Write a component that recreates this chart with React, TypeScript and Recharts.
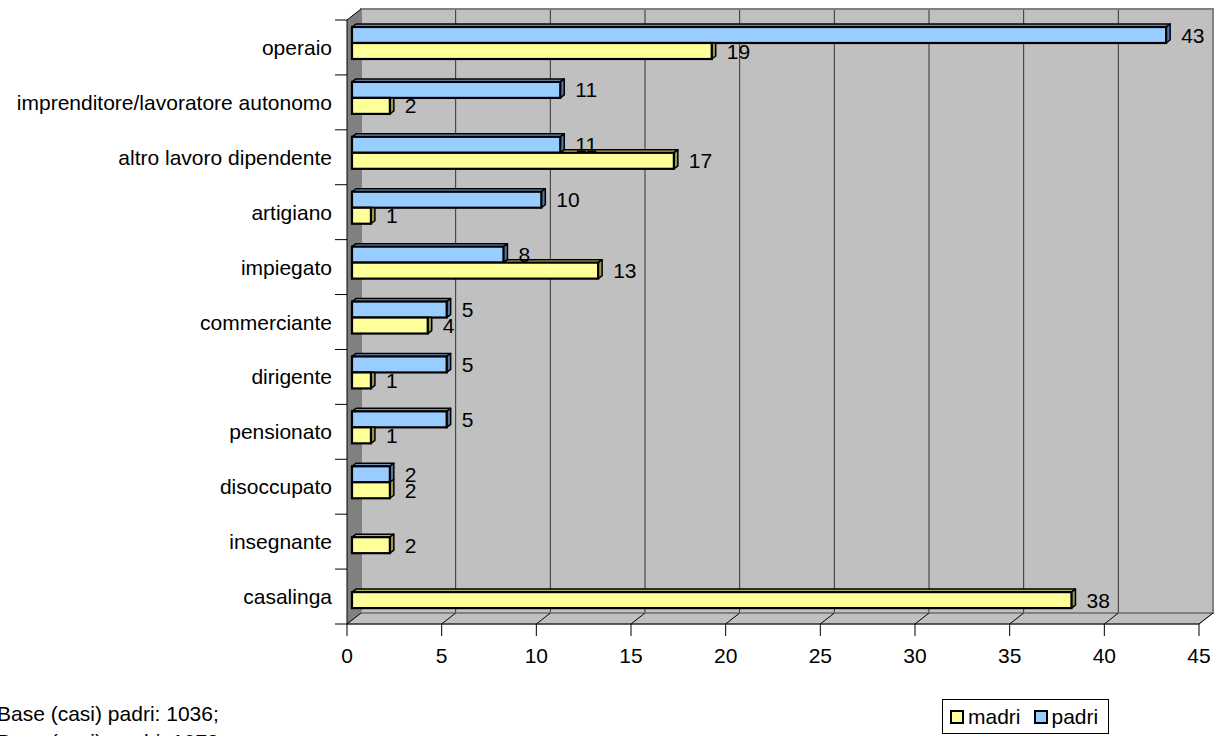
import React from 'react';
import { BarChart, Bar, XAxis, YAxis, CartesianGrid, ReferenceArea, LabelList, Legend } from 'recharts';

const categories = [
  'operaio',
  'imprenditore/lavoratore autonomo',
  'altro lavoro dipendente',
  'artigiano',
  'impiegato',
  'commerciante',
  'dirigente',
  'pensionato',
  'disoccupato',
  'insegnante',
  'casalinga',
];
const padriValues = [43, 11, 11, 10, 8, 5, 5, 5, 2, 0, 0];
const madriValues = [19, 2, 17, 1, 13, 4, 1, 1, 2, 2, 38];
const xTicks = [0, 5, 10, 15, 20, 25, 30, 35, 40, 45];
const legendOrder = ['madri', 'padri'];
const footnotes = ['Base (casi) padri: 1036;', 'Base (casi) madri: 1073'];

const data = categories.map((cat, i) => ({ cat, padri: padriValues[i], madri: madriValues[i] }));

const FONT = '"Liberation Sans", Arial, Helvetica, sans-serif';
const FS = 21;
const DX = 14; // wall depth
const DY = -11;
const SX = 5; // bar position in depth
const SY = -4;
const EX = 4; // bar extrusion
const EY = 3;
const TICK_SIZE = 12;
const TICK_MARGIN = 12;

const COLORS: Record<string, { front: string; top: string; side: string }> = {
  padri: { front: '#99ccff', top: '#7094c4', side: '#5577a3' },
  madri: { front: '#ffff99', top: '#b2b266', side: '#99994d' },
};

const Box3D = (p: any) => {
  const { x, y, width, height, front, top, side, coverRatio = 0 } = p;
  if (!(width > 0)) return null;
  const fx = x + SX;
  const fy = y + SY;
  const w = width;
  const h = height;
  const ts = Math.min(w, w * coverRatio);
  const clipSide = coverRatio > 1;
  const sidePts = clipSide
    ? `${fx + w},${fy} ${fx + w + EX},${fy} ${fx + w + EX},${fy + h - EY} ${fx + w},${fy + h}`
    : `${fx + w},${fy} ${fx + w + EX},${fy - EY} ${fx + w + EX},${fy + h - EY} ${fx + w},${fy + h}`;
  return (
    <g>
      {ts < w && (
        <polygon
          points={`${fx + ts},${fy} ${fx + ts + EX},${fy - EY} ${fx + w + EX},${fy - EY} ${fx + w},${fy}`}
          fill={top}
          stroke="#000"
          strokeWidth={1.5}
          strokeLinejoin="round"
        />
      )}
      <polygon points={sidePts} fill={side} stroke="#000" strokeWidth={1.5} strokeLinejoin="round" />
      <rect x={fx} y={fy} width={w} height={h} fill={front} stroke="#000" strokeWidth={2.2} />
    </g>
  );
};

const padriShape = (p: any) => <Box3D {...p} {...COLORS.padri} coverRatio={0} />;
const madriShape = (p: any) => {
  const pl = p.payload || {};
  const ratio = pl.madri ? pl.padri / pl.madri : 0;
  return <Box3D {...p} {...COLORS.madri} coverRatio={ratio} />;
};

const renderValueLabel = (p: any) => {
  const vb = p.viewBox && p.viewBox.width !== undefined ? p.viewBox : p;
  const { x, y, width, height } = vb;
  const v = p.value;
  if (!v) return null;
  return (
    <text
      x={x + width + SX + 15}
      y={y + height / 2 + SY}
      fontSize={FS}
      fontFamily={FONT}
      fill="#000"
      dominantBaseline="central"
    >
      {v}
    </text>
  );
};

const WallsShape = (p: any) => {
  const { x, y, width: w, height: h } = p;
  const n = categories.length;
  const b = y + h;
  const ticks = [];
  for (let k = 0; k <= n; k++) {
    const yk = y + (h * k) / n;
    ticks.push(<line key={k} x1={x - 12} y1={yk} x2={x} y2={yk} stroke="#000" strokeWidth={1} />);
  }
  return (
    <g>
      <polygon
        points={`${x},${y} ${x + DX},${y + DY} ${x + DX},${b + DY} ${x},${b}`}
        fill="#808080"
      />
      <polygon
        points={`${x},${b} ${x + DX},${b + DY} ${x + w + DX},${b + DY} ${x + w},${b}`}
        fill="#c0c0c0"
        stroke="#808080"
        strokeWidth={1}
      />
      <rect x={x + DX} y={y + DY} width={w} height={h} fill="none" stroke="#808080" strokeWidth={2} />
      <line x1={x} y1={y} x2={x + DX} y2={y + DY} stroke="#000" strokeWidth={1} />
      {ticks}
    </g>
  );
};

const XTick = (p: any) => {
  const { x, y, payload } = p;
  const ay = y - TICK_SIZE - TICK_MARGIN;
  return (
    <g>
      <line x1={x} y1={ay} x2={x + DX} y2={ay + DY} stroke="#000" strokeWidth={1} />
      <text x={x} y={y} dy="0.71em" textAnchor="middle" fontSize={FS} fontFamily={FONT} fill="#000">
        {payload.value}
      </text>
    </g>
  );
};

const YTick = (p: any) => {
  const { x, y, payload } = p;
  return (
    <text x={x} y={y} textAnchor="end" dominantBaseline="central" fontSize={FS} fontFamily={FONT} fill="#000">
      {payload.value}
    </text>
  );
};

const renderLegend = (p: any) => {
  const payload = [...(p.payload || [])].sort(
    (a: any, b: any) => legendOrder.indexOf(a.dataKey) - legendOrder.indexOf(b.dataKey)
  );
  return (
    <div
      style={{
        boxSizing: 'border-box',
        width: '100%',
        height: '100%',
        border: '1px solid #000',
        background: '#fff',
        display: 'flex',
        alignItems: 'center',
        paddingLeft: 7,
        fontFamily: FONT,
        fontSize: FS,
        color: '#000',
      }}
    >
      {payload.map((item: any) => (
        <div key={item.dataKey} style={{ display: 'flex', alignItems: 'center', marginRight: 13 }}>
          <span
            style={{
              display: 'inline-block',
              boxSizing: 'border-box',
              width: 14,
              height: 14,
              border: '2px solid #000',
              background: COLORS[item.dataKey]?.front,
              marginRight: 4,
            }}
          />
          <span style={{ lineHeight: '21px' }}>{item.value}</span>
        </div>
      ))}
    </div>
  );
};

export default function App() {
  return (
    <div style={{ position: 'relative', width: 1223, height: 736, overflow: 'hidden', background: '#fff' }}>
      <style>{`body{margin:0;} .recharts-cartesian-grid{transform:translate(${DX}px, ${DY}px);}`}</style>
      <BarChart
        width={1223}
        height={736}
        data={data}
        layout="vertical"
        margin={{ top: 20, right: 24, bottom: 72, left: 0 }}
        barSize={16}
        barGap={0}
      >
        <CartesianGrid horizontal={false} vertical stroke="#333" fill="#c0c0c0" fillOpacity={1} />
        <ReferenceArea x1={0} x2={45} shape={WallsShape} ifOverflow="visible" />
        <XAxis
          type="number"
          domain={[0, 45]}
          ticks={xTicks}
          interval={0}
          height={40}
          tickSize={TICK_SIZE}
          tickMargin={TICK_MARGIN}
          axisLine={{ stroke: '#000' }}
          tickLine={{ stroke: '#000' }}
          tick={<XTick />}
        />
        <YAxis
          type="category"
          dataKey="cat"
          width={347}
          interval={0}
          tickSize={0}
          tickMargin={15}
          tickLine={false}
          axisLine={{ stroke: '#000' }}
          tick={<YTick />}
        />
        <Bar dataKey="padri" name="padri" fill={COLORS.padri.front} shape={padriShape} isAnimationActive={false}>
          <LabelList dataKey="padri" content={renderValueLabel} />
        </Bar>
        <Bar dataKey="madri" name="madri" fill={COLORS.madri.front} shape={madriShape} isAnimationActive={false}>
          <LabelList dataKey="madri" content={renderValueLabel} />
        </Bar>
        <Legend
          layout="horizontal"
          verticalAlign="middle"
          align="center"
          wrapperStyle={{ left: 942, top: 699, width: 167, height: 35 }}
          content={renderLegend}
        />
      </BarChart>
      <div
        style={{
          position: 'absolute',
          left: -3,
          top: 700,
          fontFamily: FONT,
          fontSize: FS,
          lineHeight: '28px',
          whiteSpace: 'nowrap',
          color: '#000',
        }}
      >
        {footnotes.map((t) => (
          <div key={t}>{t}</div>
        ))}
      </div>
    </div>
  );
}
